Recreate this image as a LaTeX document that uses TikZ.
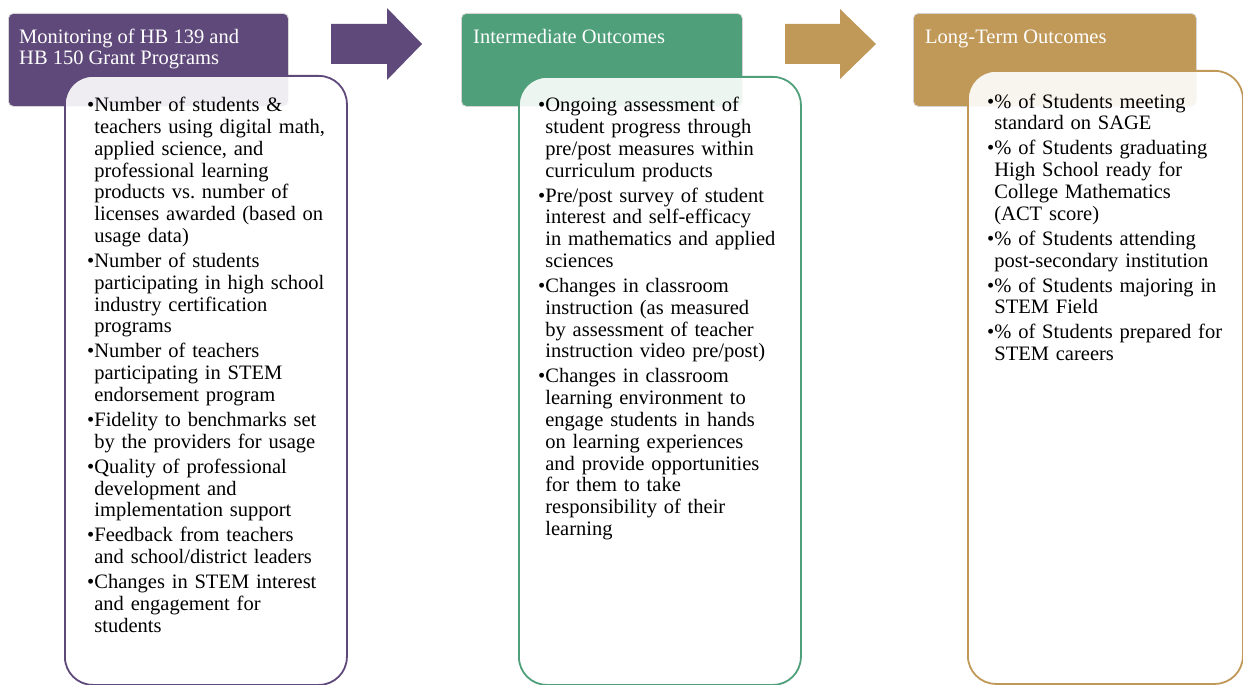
\documentclass[tikz,border=0pt]{standalone}
\usepackage{fontspec}
\setmainfont{Liberation Serif}
\usepackage{xcolor}
\usetikzlibrary{positioning}
\definecolor{plum}{HTML}{5F497A}
\definecolor{sage}{HTML}{4E9F7A}
\definecolor{ochre}{HTML}{C09858}
\definecolor{rim}{HTML}{D6D6D6}
\newlength{\bulw}
\newcommand{\bodyfont}{\fontsize{20.5}{21.8}\selectfont\settowidth{\bulw}{\textbullet}\parskip=3.2pt}
\newcommand{\itm}{\par\hangindent=\bulw\hangafter=1\noindent\makebox[\bulw][l]{\textbullet}}
\newcommand{\firstline}{\rule{0pt}{16pt}}
\tikzset{
  head/.style={draw=rim, line width=0.8pt, rounded corners=5pt, anchor=north west, inner sep=0pt, minimum height=93pt},
  card/.style={fill=white, fill opacity=0.9, line width=1.8pt, rounded corners=28pt, anchor=north west, inner sep=0pt},
  headtxt/.style={text=white, font=\fontsize{20.5}{21}\selectfont, align=left, anchor=north west, inner sep=0pt},
  bodytxt/.style={text=black, font=\bodyfont, text width=265pt, align=left, anchor=north west, inner sep=0pt},
}

\begin{document}
\begin{tikzpicture}[x=1pt,y=-1pt]
  \useasboundingbox[fill=white] (0,0) rectangle (1243,685);
  % stage headers
  \node[head, fill=plum, minimum width=280pt] (monhead) at (8,13) {};
  \node[head, fill=sage, minimum width=281pt] (midhead) at (461,13) {};
  \node[head, fill=ochre, minimum width=283pt] (longhead) at (913,13) {};
  \node[headtxt] (montitle) at (19,27) {\firstline Monitoring of HB 139 and\\HB 150 Grant Programs};
  \node[headtxt] (midtitle) at (473,27) {\firstline Intermediate Outcomes};
  \node[headtxt] (longtitle) at (925,27) {\firstline Long-Term Outcomes};
  % block arrows
  \fill[plum] (331,24) -- (387,24) -- (387,8) -- (422,44) -- (387,80) -- (387,64) -- (331,64) -- cycle;
  \fill[ochre] (785,24) -- (840,24) -- (840,9) -- (876,44) -- (840,79) -- (840,64) -- (785,64) -- cycle;
  % cards
  \node[card, draw=plum, minimum width=282pt, minimum height=609pt] (moncard) at (64,75) {};
  \node[card, draw=sage, minimum width=282pt, minimum height=608pt] (midcard) at (518,76) {};
  \node[card, draw=ochre, minimum width=275pt, minimum height=613pt] (longcard) at (967,70) {};
  \node[bodytxt] (monlist) at (87,86.5) {%
    \itm\firstline Number of students \&\newline teachers using digital math,\newline applied science, and\newline professional learning\newline products vs.\ number of\newline licenses awarded (based on\newline usage data)
    \itm Number of students\newline participating in high school\newline industry certification\newline programs
    \itm Number of teachers\newline participating in STEM\newline endorsement program
    \itm Fidelity to benchmarks set\newline by the providers for usage
    \itm Quality of professional\newline development and\newline implementation support
    \itm Feedback from teachers\newline and school/district leaders
    \itm Changes in STEM interest\newline and engagement for\newline students\par};
  \node[bodytxt] (midlist) at (538,86.5) {%
    \itm\firstline Ongoing assessment of\newline student progress through\newline pre/post measures within\newline curriculum products
    \itm Pre/post survey of student\newline interest and self-efficacy\newline in mathematics and applied\newline sciences
    \itm Changes in classroom\newline instruction (as measured\newline by assessment of teacher\newline instruction video pre/post)
    \itm Changes in classroom\newline learning environment to\newline engage students in hands\newline on learning experiences\newline and provide opportunities\newline for them to take\newline responsibility of their\newline learning\par};
  \node[bodytxt] (longlist) at (987,83) {%
    \itm\firstline \% of Students meeting\newline standard on SAGE
    \itm \% of Students graduating\newline High School ready for\newline College Mathematics\newline (ACT score)
    \itm \% of Students attending\newline post-secondary institution
    \itm \% of Students majoring in\newline STEM Field
    \itm \% of Students prepared for\newline STEM careers\par};
\end{tikzpicture}
\end{document}
